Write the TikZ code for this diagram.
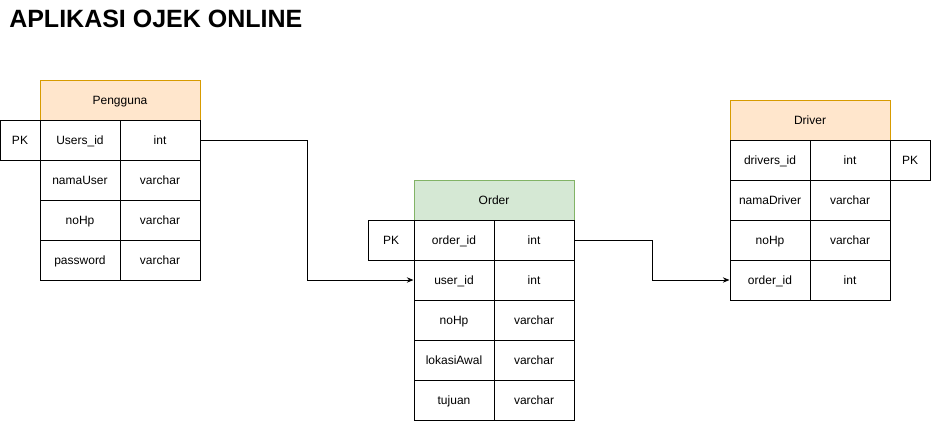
\documentclass[tikz,border=0pt]{standalone}
\usepackage{fontspec}
\setmainfont{Liberation Sans}
\usetikzlibrary{arrows.meta}
\definecolor{hdorange}{HTML}{FFE6CC}
\definecolor{lnorange}{HTML}{D79B00}
\definecolor{hdgreen}{HTML}{D5E8D4}
\definecolor{lngreen}{HTML}{82B366}
\tikzset{
  cell/.style={draw=black,line width=0.75pt,minimum width=60pt,minimum height=30pt,
    inner sep=0pt,text height=8pt,text depth=2pt,font=\fontsize{9}{11}\selectfont},
  pkcell/.style={cell,minimum width=30pt},
  orangehead/.style={cell,minimum width=120pt,fill=hdorange,draw=lnorange},
  greenhead/.style={cell,minimum width=120pt,fill=hdgreen,draw=lngreen},
}
\begin{document}
\begin{tikzpicture}[x=0.75pt,y=-0.75pt]
\useasboundingbox (0,0) rectangle (931,421);
\node[anchor=base west,inner sep=0pt,font=\fontsize{18.75}{22}\selectfont\bfseries] (title) at (9,27) {APLIKASI OJEK ONLINE};
% tabel pengguna
\node[orangehead] (phead) at (120,100) {Pengguna};
\node[pkcell] (ppk) at (20,140) {PK};
\node[cell] (pid) at (80,140) {Users\_id};
\node[cell] (pidt) at (160,140) {int};
\node[cell] (pnama) at (80,180) {namaUser};
\node[cell] (pnamat) at (160,180) {varchar};
\node[cell] (php) at (80,220) {noHp};
\node[cell] (phpt) at (160,220) {varchar};
\node[cell] (ppass) at (80,260) {password};
\node[cell] (ppasst) at (160,260) {varchar};
% tabel order
\node[greenhead] (ohead) at (494,200) {Order};
\node[pkcell,minimum width=34.5pt] (opk) at (391,240) {PK};
\node[cell] (oid) at (454,240) {order\_id};
\node[cell] (oidt) at (534,240) {int};
\node[cell] (ouser) at (454,280) {user\_id};
\node[cell] (ousert) at (534,280) {int};
\node[cell] (ohp) at (454,320) {noHp};
\node[cell] (ohpt) at (534,320) {varchar};
\node[cell] (oawal) at (454,360) {lokasiAwal};
\node[cell] (oawalt) at (534,360) {varchar};
\node[cell] (otuj) at (454,400) {tujuan};
\node[cell] (otujt) at (534,400) {varchar};
% tabel driver
\node[orangehead] (dhead) at (810,120) {Driver};
\node[cell] (did) at (770,160) {drivers\_id};
\node[cell] (didt) at (850,160) {int};
\node[pkcell] (dpk) at (910,160) {PK};
\node[cell] (dnama) at (770,200) {namaDriver};
\node[cell] (dnamat) at (850,200) {varchar};
\node[cell] (dhp) at (770,240) {noHp};
\node[cell] (dhpt) at (850,240) {varchar};
\node[cell] (dorder) at (770,280) {order\_id};
\node[cell] (dordert) at (850,280) {int};
% relasi
\draw[line width=0.75pt,-{Stealth[length=5pt,width=4pt]}] (pidt.east) -- ++(107,0) |- (ouser.west);
\draw[line width=0.75pt,-{Stealth[length=5pt,width=4pt]}] (oidt.east) -- ++(78,0) |- (dorder.west);
\end{tikzpicture}
\end{document}
